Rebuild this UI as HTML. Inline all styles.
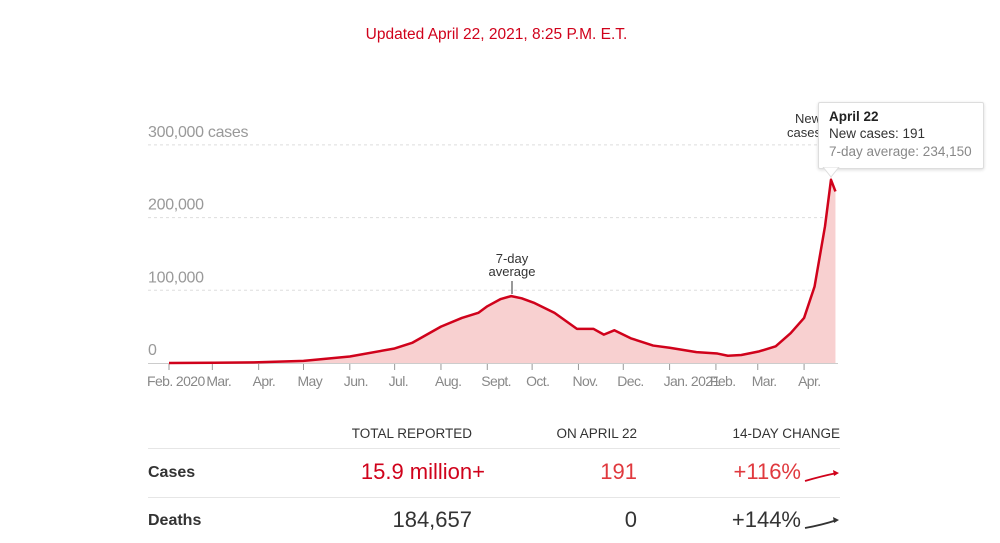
<!DOCTYPE html>
<html><head><meta charset="utf-8">
<style>
body{margin:0;background:#fff;font-family:"Liberation Sans",sans-serif;}
#wrap{position:relative;width:1000px;height:543px;overflow:hidden;}
.t{position:absolute;white-space:nowrap;}
</style></head>
<body>
<div id="wrap">
<div class="t" style="left:0;width:993px;text-align:center;top:26px;font-size:15.5px;color:#d0021b;">Updated April 22, 2021, 8:25 P.M. E.T.</div>
<svg id="chart" width="1000" height="410" style="position:absolute;left:0;top:0;font-family:'Liberation Sans',sans-serif;"></svg>
<div class="t" style="left:818px;top:102px;width:164px;height:65px;background:#fff;border:1px solid #ddd;box-shadow:0 1px 3px rgba(0,0,0,.15);border-radius:2px;font-size:13.5px;">
  <div style="position:absolute;left:10px;top:6px;font-weight:bold;color:#222;">April 22</div>
  <div style="position:absolute;left:10px;top:23px;color:#333;">New cases: 191</div>
  <div style="position:absolute;left:10px;top:41px;color:#888;">7-day average: 234,150</div>
</div>
<svg width="30" height="14" style="position:absolute;left:822px;top:166px;"><path d="M1 1 L17 1 L9 11 Z" fill="#fff" stroke="#ddd"/><path d="M0 0 L18 0" stroke="#fff" stroke-width="2"/></svg>

<div>
<div class="t" style="right:528px;top:426px;font-size:13.5px;color:#333;">TOTAL REPORTED</div>
<div class="t" style="right:363px;top:426px;font-size:13.5px;color:#333;">ON APRIL 22</div>
<div class="t" style="right:160px;top:426px;font-size:13.5px;color:#333;">14-DAY CHANGE</div>
<div style="position:absolute;left:148px;top:448px;width:692px;height:1px;background:#e6e6e6;"></div>
<div class="t" style="left:148px;top:464px;font-size:16px;font-weight:bold;color:#333;">Cases</div>
<div class="t" style="right:515px;top:459px;font-size:22px;color:#d0021b;">15.9 million+</div>
<div class="t" style="right:363px;top:459px;font-size:22px;color:#e0393e;">191</div>
<div class="t" style="right:199px;top:459px;font-size:22px;color:#e0393e;">+116%</div>
<svg width="40" height="20" style="position:absolute;left:802px;top:466px;"><path d="M3 15 Q20 10 35 7" fill="none" stroke="#d0021b" stroke-width="1.8"/><path d="M31 4 L37 7 L32 10 Z" fill="#d0021b"/></svg>
<div style="position:absolute;left:148px;top:497px;width:692px;height:1px;background:#e6e6e6;"></div>
<div class="t" style="left:148px;top:512px;font-size:16px;font-weight:bold;color:#333;">Deaths</div>
<div class="t" style="right:528px;top:507px;font-size:22px;color:#333;">184,657</div>
<div class="t" style="right:363px;top:507px;font-size:22px;color:#333;">0</div>
<div class="t" style="right:199px;top:507px;font-size:22px;color:#333;">+144%</div>
<svg width="40" height="20" style="position:absolute;left:802px;top:513px;"><path d="M3 15 Q20 12 35 7" fill="none" stroke="#333" stroke-width="1.8"/><path d="M31 4 L37 7 L32 10 Z" fill="#333"/></svg>
</div>
</div>
<script>
// days since Feb 1 2020, 7-day average (thousands)
const avgDays = [0,30,60,90,121,151,163,182,196,207,213,222,229,236,244,258,273,284,291,298,309,324,335,353,367,374,383,395,406,416,425,432,439,443,446];
const avgVals = [0,0.3,1,3,9,20,28,50,62,69,78,88,92,89,83,69,47,47,39,45,34,24,21,15,13,10,11,16,23,41,62,105,188,252,236];
const yTicks = [0,100,200,300];
const yTickLabels = ['0','100,000','200,000','300,000 cases'];
const monthDays = [0,29,60,90,121,151,182,213,243,274,304,335,366,394,425];
const monthLabels = ['Feb. 2020','Mar.','Apr.','May','Jun.','Jul.','Aug.','Sept.','Oct.','Nov.','Dec.','Jan. 2021','Feb.','Mar.','Apr.'];

const svg = document.getElementById('chart');
const NS = 'http://www.w3.org/2000/svg';
const x = d => 169 + d * 1.4943;
const y = v => 363 - v * 0.727;
function mk(tag, attrs){const e=document.createElementNS(NS,tag);for(const k in attrs)e.setAttribute(k,attrs[k]);svg.appendChild(e);return e;}

yTicks.forEach((t,i)=>{
  if(t>0){const g=mk('line',{x1:148,x2:838,y1:y(t),y2:y(t),stroke:'#ddd','stroke-dasharray':'3,3'});
  
  }
  const tx=mk('text',{x:148,y:y(t)-8,'font-size':16,fill:'#999','letter-spacing':'-0.3'});tx.textContent=yTickLabels[i];
  
  
});

let pts = avgDays.map((d,i)=>x(d)+','+y(avgVals[i]*1.02)).join(' ');
const area = mk('polygon',{points:x(0)+','+y(0)+' '+pts+' '+x(446)+','+y(0),fill:'#f8d0d0'});



const base = mk('line',{x1:148,x2:838,y1:363.5,y2:363.5,stroke:'#ccc'});



monthDays.forEach((d,i)=>{
  const tk=mk('line',{x1:x(d),x2:x(d),y1:364,y2:370,stroke:'#999'});
  
  
  const tx=mk('text',{x:i===0?147:x(d)-6,y:386,'font-size':14,fill:'#888','letter-spacing':'-0.6'});tx.textContent=monthLabels[i];
  
  
});

const line = mk('polyline',{points:avgDays.map((d,i)=>x(d)+','+y(avgVals[i])).join(' '),fill:'none',stroke:'#d0021b','stroke-width':2.5,'stroke-linejoin':'round'});



const a1=mk('text',{x:512,y:263,'font-size':13,fill:'#333','text-anchor':'middle'});a1.textContent='7-day';


const a2=mk('text',{x:512,y:276,'font-size':13,fill:'#333','text-anchor':'middle'});a2.textContent='average';


const al=mk('line',{x1:512,x2:512,y1:281,y2:294,stroke:'#333'});


const n1=mk('text',{x:795,y:123,'font-size':13,fill:'#333'});n1.textContent='New';


const n2=mk('text',{x:787,y:137,'font-size':13,fill:'#333'});n2.textContent='cases';


</script>
</body></html>
